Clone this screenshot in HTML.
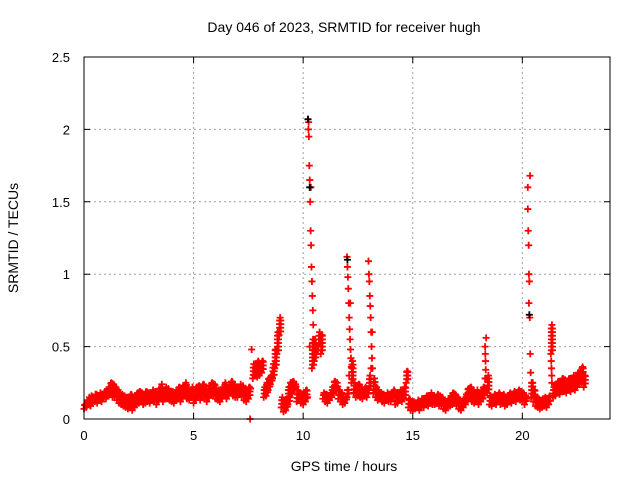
<!DOCTYPE html>
<html><head><meta charset="utf-8"><style>
body{margin:0;background:#fff}
svg{display:block;font-family:"Liberation Sans",sans-serif}
</style></head><body>
<svg id="chart" width="640" height="480">
<rect width="640" height="480" fill="#fff"/>
<g id="grid"></g>
<g id="marks"></g>
<g id="axes"></g>
<text x="344" y="32" text-anchor="middle" font-size="14">Day 046 of 2023, SRMTID for receiver hugh</text>
<text x="344" y="471" text-anchor="middle" font-size="14">GPS time / hours</text>
<text x="18" y="238" text-anchor="middle" font-size="14" transform="rotate(-90 18 238)">SRMTID / TECUs</text>
</svg>
<script>
const xTicks=[0,5,10,15,20];
const yTicks=[0,0.5,1,1.5,2,2.5];
const yTickLabels=["0","0.5","1","1.5","2","2.5"];
const loVals=[.07,.08,.10,.09,.11,.12,.11,.13,.12,.14,
.14,.16,.17,.15,.16,.13,.11,.10,.09,.08,
.07,.09,.06,.08,.10,.11,.12,.10,.11,.12,
.11,.13,.12,.10,.13,.14,.12,.15,.14,.13,
.12,.11,.13,.14,.12,.15,.16,.14,.13,.15,
.11,.14,.15,.13,.16,.14,.12,.15,.17,.16,
.14,.13,.12,.15,.16,.14,.17,.18,.16,.15,
.15,.17,.16,.13,.12,.14,.21,.28,.30,.29,
.30,.32,.15,.16,.20,.24,.28,.35,.45,.58,
.08,.05,.06,.10,.15,.18,.20,.12,.14,.11,
.10,.12,.15,.50,.35,.40,.45,.50,.45,.14,
.12,.11,.13,.15,.18,.20,.14,.12,.10,.11,
.15,.30,.25,.18,.15,.16,.15,.14,.16,.15,
.20,.35,.18,.15,.13,.14,.12,.11,.13,.12,
.12,.14,.10,.11,.13,.12,.14,.25,.08,.06,
.06,.07,.08,.06,.09,.08,.10,.09,.11,.10,
.10,.11,.09,.10,.07,.06,.08,.09,.10,.11,
.09,.07,.06,.08,.10,.13,.14,.12,.11,.13,
.10,.12,.14,.28,.18,.10,.09,.11,.10,.12,
.10,.11,.09,.10,.12,.11,.13,.12,.14,.13,
.12,.10,.14,.80,.15,.12,.09,.08,.07,.08,
.09,.08,.10,.45,.15,.16,.18,.17,.20,.19,
.18,.20,.19,.21,.20,.22,.24,.25,.22];
const hiVals=[.10,.13,.15,.16,.15,.17,.16,.18,.17,.19,
.20,.22,.25,.24,.22,.20,.18,.17,.16,.15,
.15,.17,.14,.16,.18,.19,.18,.17,.19,.18,
.18,.20,.19,.17,.21,.24,.20,.22,.21,.19,
.19,.18,.20,.22,.19,.23,.25,.21,.20,.22,
.18,.22,.23,.20,.24,.21,.19,.23,.25,.24,
.21,.20,.19,.22,.25,.21,.23,.26,.24,.22,
.22,.24,.23,.21,.20,.22,.48,.38,.36,.40,
.38,.40,.22,.25,.28,.30,.38,.48,.60,.70,
.15,.13,.14,.22,.25,.26,.24,.20,.18,.17,
.18,.20,2.05,1.6,.55,.55,.50,.60,.58,.18,
.17,.16,.18,.22,.26,.25,.20,.18,.15,.15,
.20,.80,.40,.25,.22,.24,.22,.20,.22,.21,
.30,.60,.28,.22,.20,.18,.17,.16,.18,.17,
.18,.20,.16,.17,.20,.19,.22,.33,.14,.12,
.12,.11,.13,.12,.14,.13,.16,.15,.18,.16,
.15,.17,.16,.15,.13,.12,.14,.16,.18,.17,
.15,.13,.12,.14,.17,.21,.22,.20,.18,.20,
.17,.19,.22,.56,.30,.16,.15,.17,.16,.18,
.16,.17,.15,.16,.18,.17,.19,.18,.20,.19,
.18,.16,1.45,1.68,.25,.20,.15,.14,.13,.14,
.15,.14,.16,.65,.22,.24,.26,.25,.28,.27,
.26,.28,.27,.30,.29,.32,.33,.36,.30];
const spikeT=[7.58,10.22,10.24,10.26,10.28,10.3,10.32,10.34,10.36,10.38,10.4,10.42,10.44,10.46,10.48,
12.0,12.02,12.04,12.06,12.08,12.1,12.12,12.14,12.16,12.18,12.2,12.22,
12.98,13.0,13.02,13.04,13.06,13.08,13.1,13.12,13.14,13.16,
18.3,18.31,18.32,18.33,18.34,
20.25,20.27,20.29,20.3,20.32,20.34,20.36,20.38,
21.32,21.33,21.34,21.35];
const spikeV=[0.0,2.07,2.0,1.95,1.75,1.65,1.5,1.3,1.2,1.05,0.95,0.85,0.75,0.65,0.55,
1.12,1.05,0.98,0.9,0.8,0.7,0.62,0.55,0.48,0.42,0.36,0.3,
1.09,1.0,0.95,0.85,0.78,0.7,0.6,0.5,0.42,0.35,
0.5,0.45,0.4,0.34,0.28,
1.6,1.3,1.2,1.0,0.95,0.7,0.45,0.32,
0.4,0.35,0.3,0.25];
const blackT=[10.22,10.3,12.02,20.32];
const blackV=[2.07,1.6,1.1,0.72];
const X0=84,X1=610,Y0=419,Y1=57,XMAX=24,YMAX=2.5,STEP=0.1;
const xs=t=>X0+(X1-X0)*t/XMAX;
const ys=v=>Y0-(Y0-Y1)*v/YMAX;
const NS="http://www.w3.org/2000/svg";
function mk(tag,attrs,parent){const e=document.createElementNS(NS,tag);for(const k in attrs)e.setAttribute(k,attrs[k]);parent.appendChild(e);return e;}
const grid=document.getElementById('grid'),axes=document.getElementById('axes'),marks=document.getElementById('marks');
xTicks.forEach(t=>{
  if(t>0){const g=mk('line',{x1:xs(t),x2:xs(t),y1:Y0,y2:Y1,stroke:'#a0a0a0','stroke-dasharray':'2,3'},grid);
  
  }
  const tk=mk('path',{d:`M${xs(t)},${Y0}v-6M${xs(t)},${Y1}v6`,stroke:'#000'},axes);
  
  
  const l=mk('text',{x:xs(t),y:Y0+21,'text-anchor':'middle','font-size':13},axes);l.textContent=t;
  
  
});
yTicks.forEach((v,i)=>{
  if(v>0&&v<YMAX){const g=mk('line',{x1:X0,x2:X1,y1:ys(v),y2:ys(v),stroke:'#a0a0a0','stroke-dasharray':'2,3'},grid);
  
  }
  const tk=mk('path',{d:`M${X0},${ys(v)}h6M${X1},${ys(v)}h-6`,stroke:'#000'},axes);
  
  
  const l=mk('text',{x:X0-14,y:ys(v)+5,'text-anchor':'end','font-size':13},axes);l.textContent=yTickLabels[i];
  
  
});
const fr=mk('rect',{x:X0,y:Y1,width:X1-X0,height:Y0-Y1,fill:'none',stroke:'#000'},axes);


function plus(t,v,col){const x=xs(t),y=ys(v);
  const p=mk('path',{d:`M${x-3.5},${y}h7M${x},${y-3.5}v7`,stroke:col,'stroke-width':1.8},marks);
  
  }
loVals.forEach((lo,i)=>{
  const hi=hiVals[i];
  plus(i*STEP,lo,'#f00');
  plus(i*STEP+0.05,hi,'#f00');
  if(hi-lo<0.25){
    for(let v=lo+0.025;v<hi;v+=0.025){plus(i*STEP+0.025,v,'#f00');plus(i*STEP+0.075,v,'#f00');}
  }
});
spikeT.forEach((t,i)=>plus(t,spikeV[i],'#f00'));
blackT.forEach((t,i)=>plus(t,blackV[i],'#000'));
</script>
</body></html>
